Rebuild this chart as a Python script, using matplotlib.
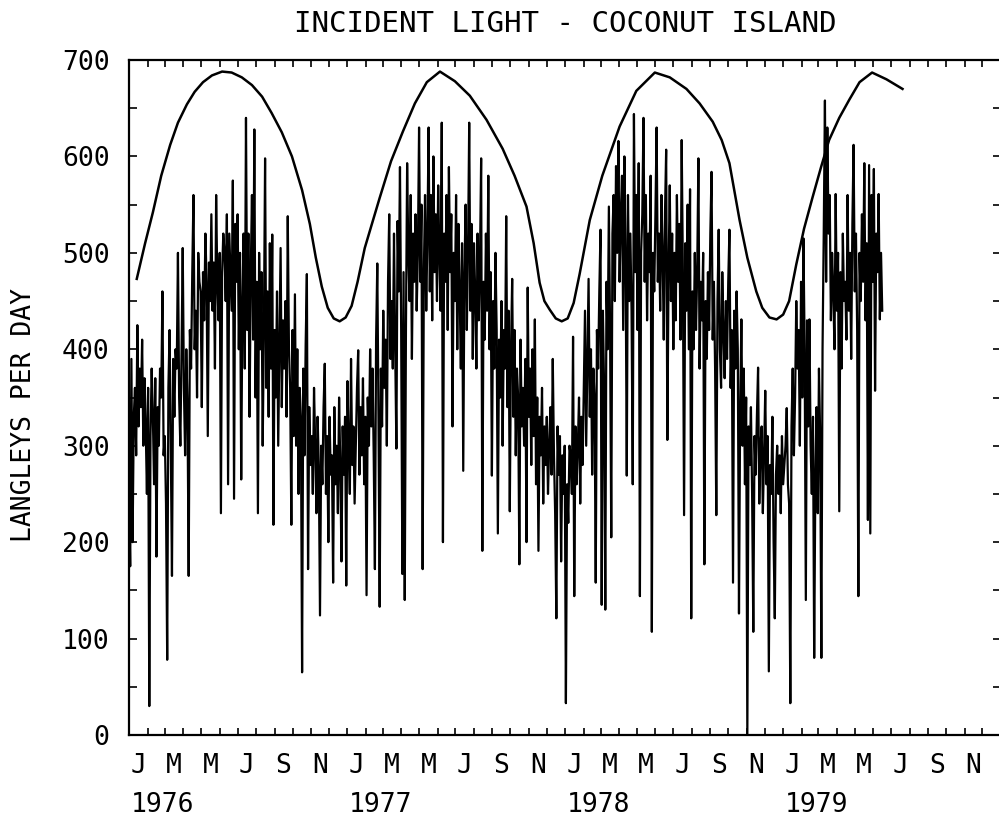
import numpy as np
import matplotlib
matplotlib.use("Agg")
import matplotlib.pyplot as plt
from matplotlib.ticker import FixedLocator, MultipleLocator
from matplotlib.transforms import blended_transform_factory

start = np.datetime64("1976-01-01")
step_days = 2  # one reading every other day

# langleys per day, Jan 1976 .. Jun 1979
light = [
    250, 175, 390, 200, 330, 360, 290, 425, 320, 380,
    340, 410, 300, 370, 320, 250, 360, 30, 310, 380,
    330, 260, 370, 185, 340, 300, 380, 350, 460, 290,
    310, 240, 78, 360, 420, 300, 165, 390, 330, 400,
    380, 500, 350, 300, 395, 505, 360, 290, 400, 340,
    165, 420, 380, 480, 560, 400, 440, 350, 500, 470,
    460, 340, 480, 430, 520, 470, 310, 490, 450, 540,
    440, 490, 380, 560, 470, 430, 500, 230, 480, 520,
    500, 450, 540, 260, 520, 480, 440, 575, 245, 530,
    470, 540, 400, 500, 265, 450, 520, 380, 640, 420,
    520, 330, 480, 560, 410, 628, 350, 470, 230, 500,
    400, 480, 300, 420, 598, 360, 460, 330, 510, 380,
    519, 218, 420, 350, 460, 300, 400, 505, 340, 430,
    380, 450, 330, 538, 400, 360, 218, 420, 310, 457,
    300, 400, 250, 360, 330, 65, 380, 290, 405, 478,
    172, 340, 280, 310, 250, 360, 300, 230, 330, 280,
    124, 300, 260, 340, 385, 250, 310, 200, 330, 270,
    290, 158, 340, 260, 300, 230, 350, 280, 180, 320,
    270, 330, 155, 367, 300, 250, 390, 280, 320, 240,
    300, 360, 399, 270, 340, 290, 370, 260, 330, 145,
    350, 300, 400, 320, 380, 290, 172, 410, 489, 330,
    133, 380, 320, 440, 360, 410, 300, 470, 540, 390,
    450, 380, 520, 400, 297, 533, 460, 589, 420, 167,
    480, 140, 420, 593, 500, 450, 560, 390, 520, 470,
    540, 440, 500, 630, 470, 550, 172, 480, 560, 440,
    520, 630, 460, 560, 430, 600, 480, 540, 450, 570,
    500, 440, 635, 200, 520, 470, 560, 420, 589, 480,
    540, 320, 500, 450, 560, 400, 530, 460, 380, 510,
    274, 480, 550, 420, 500, 635, 440, 530, 390, 510,
    460, 380, 520, 430, 490, 598, 191, 470, 410, 520,
    440, 580, 400, 480, 269, 450, 380, 500, 420, 209,
    410, 350, 450, 300, 420, 380, 538, 340, 440, 232,
    400, 473, 330, 420, 290, 380, 350, 177, 410, 320,
    360, 300, 390, 200, 464, 330, 380, 280, 400, 310,
    431, 260, 350, 191, 330, 290, 360, 240, 320, 280,
    330, 250, 300, 340, 270, 390, 290, 230, 121, 320,
    270, 310, 180, 290, 250, 300, 33, 260, 220, 300,
    290, 250, 413, 144, 320, 260, 300, 350, 240, 330,
    280, 360, 440, 300, 390, 473, 330, 400, 270, 380,
    350, 158, 420, 380, 460, 524, 135, 440, 360, 130,
    470, 400, 548, 420, 205, 520, 560, 450, 590, 500,
    616, 470, 540, 580, 420, 600, 500, 269, 560, 450,
    520, 440, 260, 644, 480, 560, 420, 593, 144, 500,
    540, 640, 470, 560, 430, 520, 480, 580, 107, 500,
    460, 540, 630, 470, 520, 440, 560, 500, 410, 540,
    607, 306, 480, 570, 450, 520, 400, 500, 430, 560,
    470, 530, 410, 617, 480, 228, 510, 440, 550, 400,
    566, 121, 460, 400, 500, 420, 480, 598, 380, 470,
    430, 500, 177, 450, 390, 480, 420, 520, 584, 410,
    470, 380, 228, 450, 524, 400, 360, 480, 420, 370,
    450, 390, 470, 524, 360, 420, 158, 440, 380, 460,
    400, 126, 340, 431, 300, 380, 260, 350, 0, 320,
    280, 340, 250, 107, 310, 270, 330, 381, 240, 300,
    320, 230, 290, 357, 260, 310, 66, 280, 250, 330,
    200, 121, 270, 300, 250, 290, 230, 310, 260, 280,
    300, 339, 260, 240, 33, 320, 380, 290, 350, 450,
    380, 420, 300, 470, 350, 515, 400, 140, 430, 320,
    431, 300, 250, 330, 80, 270, 340, 230, 380, 310,
    80, 400, 520, 658, 470, 630, 520, 560, 430, 500,
    460, 400, 561, 440, 500, 232, 480, 380, 520, 450,
    470, 410, 560, 440, 500, 390, 530, 612, 460, 520,
    420, 144, 500, 450, 540, 470, 593, 430, 510, 223,
    591, 209, 560, 470, 587, 357, 520, 480, 561, 431, 500, 440,
]

# clear-day curve: days after 1 Jan 1976, langleys per day
clear_day = [
    13, 27, 40, 54, 69, 82, 97, 110, 124, 139, 156, 172, 189, 206, 223,
    239, 256, 273, 290, 303, 313, 323, 333, 343, 353, 363, 373, 383, 395,
    407, 420, 439, 459, 479, 499, 521, 546, 571, 599, 626, 646, 666, 678,
    688, 696, 705, 715, 725, 735, 745, 755, 772, 793, 822, 850, 881, 906,
    934, 956, 978, 993, 1006, 1023, 1036, 1051, 1061, 1073, 1085, 1096,
    1106, 1118, 1131, 1145, 1160, 1173, 1190, 1207, 1224, 1245, 1269, 1296,
]
clear_val = [
    473, 510, 542, 580, 612, 635, 654, 667, 677, 684, 688, 687, 682, 674, 662,
    645, 625, 600, 565, 530, 495, 465, 443, 432, 429, 433, 445, 470, 505,
    530, 557, 595, 626, 655, 677, 688, 678, 663, 638, 608, 580, 548, 510,
    469, 450, 441, 432, 429, 432, 448, 478, 534, 580, 631, 668, 687, 682,
    670, 655, 636, 617, 593, 534, 495, 460, 443, 433, 431, 436,
    450, 488, 525, 557, 590, 617, 640, 659, 677, 687, 680, 670,
]

month_letters = ["J", "M", "M", "J", "S", "N"]
years = ["1976", "1977", "1978", "1979"]

plt.rcParams["font.family"] = ["DejaVu Sans Mono"]

fig = plt.figure(figsize=(9.99, 8.24), dpi=100)
ax = fig.add_axes([129 / 999, 89 / 824, 872 / 999, 675 / 824])

days = np.arange(len(light)) * step_days
ax.plot(days, light, color="black", lw=1.6)
ax.plot(clear_day, clear_val, color="black", lw=1.8, solid_joinstyle="round")

months = np.arange("1976-01", "1980-02", dtype="datetime64[M]")
month_start = (months.astype("datetime64[D]") - start).astype(float)
month_mid = (month_start[:-1] + month_start[1:]) / 2

ax.set_xlim(0, month_start[-1])
ax.set_ylim(0, 700)

ax.xaxis.set_major_locator(FixedLocator(month_mid[::2]))
ax.set_xticklabels(month_letters * 4)
ax.xaxis.set_minor_locator(FixedLocator(month_start[1:-1]))
ax.tick_params(axis="x", which="major", length=0, pad=13, labelsize=19)
ax.tick_params(axis="x", which="minor", direction="in", length=5, width=1.2,
               top=True, bottom=True)

ax.yaxis.set_major_locator(MultipleLocator(100))
ax.yaxis.set_minor_locator(MultipleLocator(50))
ax.tick_params(axis="y", which="both", direction="in", length=6, width=1.2,
               left=True, right=True)
ax.tick_params(axis="y", which="major", pad=14, labelsize=19)

for s in ax.spines.values():
    s.set_linewidth(1.6)

trans = blended_transform_factory(ax.transData, ax.transAxes)
for k, yr in enumerate(years):
    ax.text(month_start[12 * k] + 3, -0.104, yr, transform=trans,
            ha="left", va="center", fontsize=19)

ax.set_title("INCIDENT LIGHT - COCONUT ISLAND", fontsize=21, pad=20)
ax.set_ylabel("LANGLEYS PER DAY", fontsize=19)
ax.yaxis.set_label_coords(-0.106, 0.474)

fig.savefig("out.png", dpi=100)
